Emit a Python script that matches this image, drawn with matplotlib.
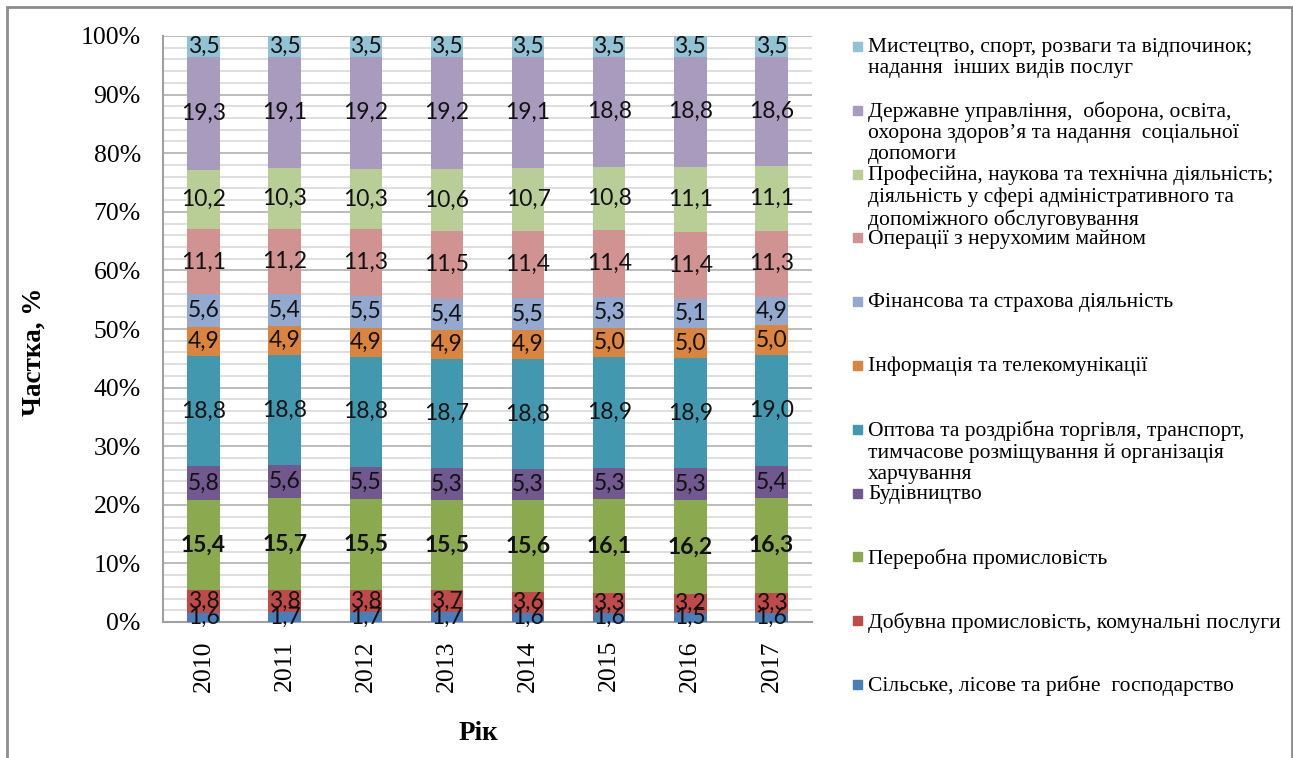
import matplotlib.pyplot as plt
import numpy as np
from matplotlib.patches import Rectangle

years = ['2010', '2011', '2012', '2013', '2014', '2015', '2016', '2017']

# bottom to top
agri = [1.6, 1.7, 1.7, 1.7, 1.6, 1.6, 1.5, 1.6]
mining = [3.8, 3.8, 3.8, 3.7, 3.6, 3.3, 3.2, 3.3]
manuf = [15.4, 15.7, 15.5, 15.5, 15.6, 16.1, 16.2, 16.3]
constr = [5.8, 5.6, 5.5, 5.3, 5.3, 5.3, 5.3, 5.4]
trade = [18.8, 18.8, 18.8, 18.7, 18.8, 18.9, 18.9, 19.0]
info = [4.9, 4.9, 4.9, 4.9, 4.9, 5.0, 5.0, 5.0]
finance = [5.6, 5.4, 5.5, 5.4, 5.5, 5.3, 5.1, 4.9]
realty = [11.1, 11.2, 11.3, 11.5, 11.4, 11.4, 11.4, 11.3]
prof = [10.2, 10.3, 10.3, 10.6, 10.7, 10.8, 11.1, 11.1]
public = [19.3, 19.1, 19.2, 19.2, 19.1, 18.8, 18.8, 18.6]
arts = [3.5, 3.5, 3.5, 3.5, 3.5, 3.5, 3.5, 3.5]

labels = [
    'Сільське, лісове та рибне  господарство',
    'Добувна промисловість, комунальні послуги',
    'Переробна промисловість',
    'Будівництво',
    'Оптова та роздрібна торгівля, транспорт,\nтимчасове розміщування й організація\nхарчування',
    'Інформація та телекомунікації',
    'Фінансова та страхова діяльність',
    'Операції з нерухомим майном',
    'Професійна, наукова та технічна діяльність;\nдіяльність у сфері адміністративного та\nдопоміжного обслуговування',
    'Державне управління,  оборона, освіта,\nохорона здоров’я та надання  соціальної\nдопомоги',
    'Мистецтво, спорт, розваги та відпочинок;\nнадання  інших видів послуг',
]
series = [agri, mining, manuf, constr, trade, info, finance, realty, prof, public, arts]
colors = ['#4A7EBB', '#BE4B48', '#8BA94E', '#71588F', '#4198AF', '#DB843D',
          '#93A9CF', '#D19392', '#B9CD96', '#A99BBD', '#92C3D4']

W, H = 1293, 758
fig = plt.figure(figsize=(W / 100, H / 100), dpi=100)
ax = fig.add_axes([163 / W, 1 - 622 / H, (812 - 163) / W, (622 - 36) / H])

data = np.array(series, dtype=float)
pct = data / data.sum(axis=0) * 100
x = np.arange(len(years))
bottom = np.zeros(len(years))
for i in range(len(series)):
    ax.bar(x, pct[i], 0.4, bottom=bottom, color=colors[i], zorder=3)
    for j in range(len(years)):
        ax.text(x[j], bottom[j] + pct[i][j] / 2, ('%.1f' % data[i][j]).replace('.', ','),
                ha='center', va='center', fontsize=16.5, family='Lato',
                fontweight='bold' if i == 2 else 'normal', color='#111111', zorder=4)
    bottom += pct[i]

ax.set_xlim(-0.5, len(years) - 0.5)
ax.set_ylim(0, 100)
ax.set_yticks(np.arange(0, 101, 10))
ax.set_yticklabels(['%d%%' % v for v in range(0, 101, 10)], family='Liberation Serif', fontsize=18.5)
ax.set_yticks(np.arange(0, 101, 2), minor=True)
ax.set_xticks(x)
ax.set_xticklabels(years, rotation=90, family='Liberation Serif', fontsize=18.5)
ax.tick_params(axis='y', which='both', length=0, pad=16)
ax.tick_params(axis='x', length=0, pad=13)
ax.grid(axis='y', which='major', color='#B0B0B0', linewidth=1.2, zorder=0)
ax.grid(axis='y', which='minor', color='#D9D9D9', linewidth=1.2, zorder=0)
for s in ['top', 'right']:
    ax.spines[s].set_visible(False)
for s in ['left', 'bottom']:
    ax.spines[s].set_color('#A0A0A0')
    ax.spines[s].set_linewidth(1.5)

fig.text(34 / W, 1 - 352 / H, 'Частка, %', rotation=90, ha='center', va='center',
         family='Liberation Serif', fontweight='bold', fontsize=19.5)
fig.text(478 / W, 1 - 734 / H, 'Рік', ha='center', va='center',
         family='Liberation Serif', fontweight='bold', fontsize=19.5)

# legend, top entry first
y0, step = 46, 63.8
for k, i in enumerate(range(len(series) - 1, -1, -1)):
    yc = y0 + k * step
    fig.patches.append(Rectangle((853 / W, 1 - (yc + 5) / H), 9 / W, 9 / H,
                                 transform=fig.transFigure, color=colors[i]))
    fig.text(868 / W, 1 - (yc - 8) / H, labels[i], ha='left', va='top',
             family='Liberation Serif', fontsize=15.5, linespacing=1.15)

fig.patches.append(Rectangle((7 / W, -0.01), 1285 / W, 1.01 - 7 / H, transform=fig.transFigure,
                             fill=False, edgecolor='#8C8C8C', linewidth=2))

fig.savefig('out.png', dpi=100)
